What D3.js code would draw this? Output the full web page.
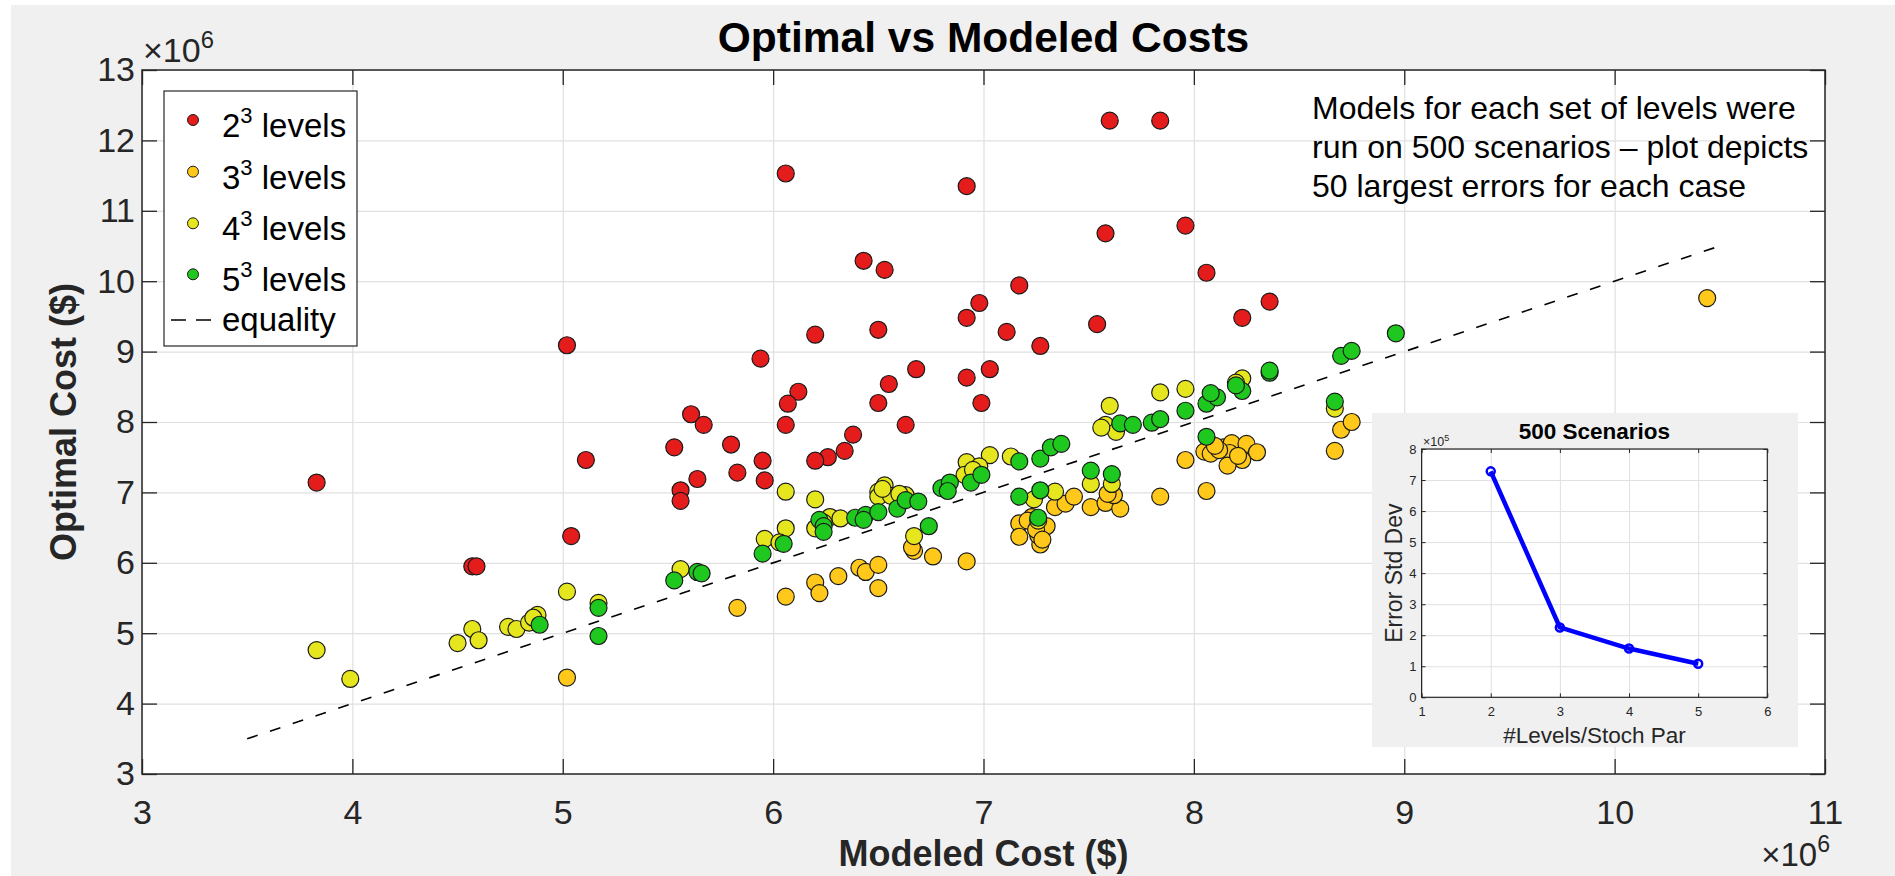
<!DOCTYPE html>
<html>
<head>
<meta charset="utf-8">
<script src="https://cdn.jsdelivr.net/npm/d3@7"></script>
<style>
  html, body { margin: 0; padding: 0; background: #ffffff; }
  svg { display: block; font-family: "Liberation Sans", Arial, Helvetica, sans-serif; }
</style>
</head>
<body>
<svg id="fig" width="1895" height="876"></svg>
<script>
// Costs in millions of dollars, each point is [modeled, optimal]
const levels2 = [[6.06,11.53],[6.92,11.35],[6.43,10.29],[6.53,10.16],[7.17,9.94],[6.98,9.69],[6.92,9.48],[6.50,9.31],[6.20,9.24],[7.11,9.28],[7.27,9.08],[5.94,8.90],[6.68,8.75],[7.03,8.75],[6.92,8.63],[6.55,8.54],[6.12,8.43],[6.07,8.26],[6.50,8.27],[6.99,8.27],[5.61,8.11],[5.67,7.96],[6.06,7.96],[6.63,7.96],[6.38,7.82],[7.60,12.28],[7.84,12.28],[7.58,10.68],[7.96,10.79],[8.06,10.12],[8.36,9.71],[8.23,9.48],[7.54,9.39],[5.02,9.09],[5.80,7.68],[6.34,7.59],[6.26,7.50],[6.20,7.45],[5.95,7.45],[5.83,7.28],[5.96,7.17],[5.64,7.19],[5.56,7.03],[5.56,6.88],[5.53,7.64],[3.83,7.14],[4.57,5.95],[4.59,5.95],[5.04,6.38],[5.11,7.46]];
const levels3 = [[5.02,4.37],[5.83,5.36],[6.06,5.52],[6.20,5.72],[6.22,5.57],[6.31,5.81],[6.41,5.93],[6.44,5.87],[6.50,5.97],[6.50,5.64],[6.67,6.17],[6.76,6.09],[6.92,6.02],[7.17,6.56],[7.17,6.37],[7.27,6.26],[7.26,6.39],[7.30,6.52],[7.23,6.65],[7.34,6.79],[7.39,6.84],[7.43,6.94],[7.51,6.79],[7.58,6.85],[7.65,6.77],[7.62,6.96],[7.84,6.94],[7.96,7.46],[8.05,7.58],[8.08,7.55],[8.14,7.64],[8.18,7.70],[8.25,7.69],[8.30,7.57],[8.17,7.56],[8.23,7.46],[8.16,7.38],[8.06,7.02],[8.67,7.59],[8.70,7.89],[8.75,8.00],[10.44,9.76],[8.12,7.60],[8.21,7.52],[7.21,6.60],[7.25,6.47],[6.66,6.22],[7.59,6.98],[8.10,7.66],[7.28,6.33]];
const levels4 = [[3.83,4.76],[3.99,4.35],[4.50,4.86],[4.57,5.06],[4.60,4.90],[4.74,5.09],[4.78,5.06],[4.84,5.15],[4.88,5.26],[5.02,5.59],[5.17,5.43],[5.56,5.91],[6.06,7.01],[6.20,6.90],[6.06,6.49],[5.96,6.34],[6.03,6.29],[6.53,7.10],[6.50,7.01],[6.50,6.94],[6.56,6.95],[6.63,6.96],[6.27,6.65],[6.32,6.63],[6.20,6.49],[6.67,6.38],[6.92,7.43],[7.03,7.53],[6.98,7.37],[6.91,7.25],[7.13,7.51],[7.34,7.01],[7.24,6.90],[7.51,7.12],[7.61,7.12],[7.58,7.96],[7.63,7.86],[7.60,8.23],[7.84,8.42],[7.96,8.47],[8.23,8.62],[8.67,8.19],[6.24,6.57],[6.52,7.05],[6.95,7.32],[4.86,5.22],[7.26,6.60],[8.20,8.56],[6.60,6.98],[7.56,7.92]];
const levels5 = [[4.89,5.12],[5.17,5.36],[5.17,4.96],[5.53,5.75],[5.64,5.87],[5.66,5.85],[5.95,6.13],[6.05,6.27],[6.22,6.61],[6.24,6.52],[6.24,6.44],[6.39,6.64],[6.44,6.68],[6.43,6.61],[6.50,6.72],[6.59,6.77],[6.63,6.89],[6.69,6.87],[6.74,6.52],[6.80,7.06],[6.84,7.14],[6.94,7.14],[6.99,7.25],[7.17,7.44],[7.27,7.48],[7.32,7.64],[7.37,7.69],[7.17,6.94],[7.27,7.03],[7.26,6.64],[7.51,7.31],[7.61,7.26],[7.65,7.98],[7.71,7.96],[7.80,7.99],[7.84,8.04],[7.96,8.16],[8.06,8.26],[8.11,8.35],[8.08,8.41],[8.23,8.44],[8.20,8.52],[8.36,8.70],[8.36,8.73],[8.70,8.94],[8.75,9.01],[8.96,9.26],[8.67,8.29],[8.06,7.79],[6.83,7.02]];

const seriesBases = ["2", "3", "4", "5"];
const seriesColors = ["#e41c1c", "#ffc81a", "#e6e61e", "#1ec81e"];
const xTicks = [3, 4, 5, 6, 7, 8, 9, 10, 11];
const yTicks = [3, 4, 5, 6, 7, 8, 9, 10, 11, 12, 13];
const equalityRange = [3.5, 10.5];

// Inset: error standard deviation (x 1e5) against levels per stochastic parameter
const insetLevels = [2, 3, 4, 5];
const insetStdDev = [7.28, 2.25, 1.57, 1.08];
const insetXTicks = [1, 2, 3, 4, 5, 6];
const insetYTicks = [0, 1, 2, 3, 4, 5, 6, 7, 8];

const svg = d3.select("#fig");
const ink = "#262626";
const gridColor = "#e0e0e0";

// figure background
svg.append("rect").attr("x", 11).attr("y", 5).attr("width", 1884).attr("height", 871).attr("fill", "#f0f0f0");

const x = d3.scaleLinear().domain([3, 11]).range([142, 1825]);
const y = d3.scaleLinear().domain([3, 13]).range([774, 70]);
const [x0, x1] = x.range();
const [y0, y1] = y.range();

svg.append("rect").attr("x", x0).attr("y", y1).attr("width", x1 - x0).attr("height", y0 - y1).attr("fill", "#ffffff");

// grid
const grid = svg.append("g");
grid.append("g").attr("transform", `translate(0,${y0})`)
  .call(d3.axisBottom(x).tickValues(xTicks).tickSize(-(y0 - y1)).tickFormat(""));
grid.append("g").attr("transform", `translate(${x0},0)`)
  .call(d3.axisLeft(y).tickValues(yTicks).tickSize(-(x1 - x0)).tickFormat(""));
grid.selectAll(".domain").remove();
grid.selectAll("line").attr("stroke", gridColor).attr("stroke-width", 1.2);

// equality line
svg.append("line")
  .attr("x1", x(equalityRange[0])).attr("y1", y(equalityRange[0]))
  .attr("x2", x(equalityRange[1])).attr("y2", y(equalityRange[1]))
  .attr("stroke", "#000").attr("stroke-width", 1.6).attr("stroke-dasharray", "11,13");

// scatter series
const allSeries = [levels2, levels3, levels4, levels5];
allSeries.forEach((pts, i) => {
  svg.append("g").selectAll("circle").data(pts).join("circle")
    .attr("cx", d => x(d[0])).attr("cy", d => y(d[1])).attr("r", 8.5)
    .attr("fill", seriesColors[i]).attr("stroke", "#1a1a1a").attr("stroke-width", 1.2);
});

// axes with inward ticks
function styleAxis(g, fs) {
  g.select(".domain").remove();
  g.selectAll("line").attr("stroke", ink).attr("stroke-width", 1.3);
  g.selectAll("text").attr("fill", ink).attr("font-size", fs).attr("font-family", null);
}
svg.append("g").attr("transform", `translate(0,${y0})`)
  .call(d3.axisBottom(x).tickValues(xTicks).tickSizeInner(-15).tickSizeOuter(0).tickPadding(26).tickFormat(d3.format("d")))
  .call(g => styleAxis(g, 34));
svg.append("g").attr("transform", `translate(${x0},0)`)
  .call(d3.axisLeft(y).tickValues(yTicks).tickSizeInner(-15).tickSizeOuter(0).tickPadding(7).tickFormat(d3.format("d")))
  .call(g => styleAxis(g, 34));
svg.append("g").attr("transform", `translate(0,${y1})`)
  .call(d3.axisTop(x).tickValues(xTicks).tickSizeInner(-15).tickSizeOuter(0).tickFormat(""))
  .call(g => styleAxis(g, 34));
svg.append("g").attr("transform", `translate(${x1},0)`)
  .call(d3.axisRight(y).tickValues(yTicks).tickSizeInner(-15).tickSizeOuter(0).tickFormat(""))
  .call(g => styleAxis(g, 34));
svg.append("rect").attr("x", x0).attr("y", y1).attr("width", x1 - x0).attr("height", y0 - y1)
  .attr("fill", "none").attr("stroke", ink).attr("stroke-width", 1.5);

// exponent labels
function exponent(px, py, anchor, fs, power) {
  const t = svg.append("text").attr("x", px).attr("y", py).attr("text-anchor", anchor)
    .attr("fill", ink).attr("font-size", fs);
  t.append("tspan").text("\u00d710");
  t.append("tspan").attr("font-size", fs * 0.7).attr("dy", -fs * 0.42).text(power);
  return t;
}
exponent(143, 62, "start", 34, "6");
exponent(1830, 866, "end", 33, "6");

// titles
svg.append("text").attr("x", (x0 + x1) / 2).attr("y", 52).attr("text-anchor", "middle")
  .attr("font-size", 42.5).attr("font-weight", "bold").attr("fill", "#000").text("Optimal vs Modeled Costs");
svg.append("text").attr("x", (x0 + x1) / 2).attr("y", 866).attr("text-anchor", "middle")
  .attr("font-size", 36).attr("font-weight", "bold").attr("fill", ink).text("Modeled Cost ($)");
svg.append("text").attr("transform", `translate(76,${(y0 + y1) / 2}) rotate(-90)`).attr("text-anchor", "middle")
  .attr("font-size", 36).attr("font-weight", "bold").attr("fill", ink).text("Optimal Cost ($)");

// annotation
const note = ["Models for each set of levels were", "run on 500 scenarios \u2013 plot depicts", "50 largest errors for each case"];
svg.append("g").selectAll("text").data(note).join("text")
  .attr("x", 1312).attr("y", (d, i) => 119 + i * 39)
  .attr("font-size", 32).attr("fill", "#000").text(d => d);

// legend
const leg = svg.append("g");
leg.append("rect").attr("x", 164).attr("y", 91).attr("width", 193).attr("height", 255)
  .attr("fill", "#fff").attr("stroke", ink).attr("stroke-width", 1.2);
const legY = [120, 171.7, 223.3, 274.3];
seriesBases.forEach((b, i) => {
  leg.append("circle").attr("cx", 193).attr("cy", legY[i]).attr("r", 5.5)
    .attr("fill", seriesColors[i]).attr("stroke", "#1a1a1a").attr("stroke-width", 1);
  const t = leg.append("text").attr("x", 222).attr("y", legY[i] + 17).attr("font-size", 33).attr("fill", "#000");
  t.append("tspan").text(b);
  t.append("tspan").attr("font-size", 22).attr("dy", -14).text("3");
  t.append("tspan").attr("dy", 14).text(" levels");
});
leg.append("line").attr("x1", 171).attr("x2", 211).attr("y1", 320).attr("y2", 320)
  .attr("stroke", "#000").attr("stroke-width", 1.5).attr("stroke-dasharray", "15,10");
leg.append("text").attr("x", 222).attr("y", 331).attr("font-size", 33).attr("fill", "#000").text("equality");

// inset chart
const inset = svg.append("g");
inset.append("rect").attr("x", 1372).attr("y", 413).attr("width", 426).attr("height", 334).attr("fill", "#f0f0f0");
const ix = d3.scaleLinear().domain([1, 6]).range([1421.6, 1767.3]);
const iy = d3.scaleLinear().domain([0, 8]).range([697.3, 449]);
const [ix0, ix1] = ix.range();
const [iy0, iy1] = iy.range();
inset.append("rect").attr("x", ix0).attr("y", iy1).attr("width", ix1 - ix0).attr("height", iy0 - iy1).attr("fill", "#fff");
const igrid = inset.append("g");
igrid.append("g").attr("transform", `translate(0,${iy0})`)
  .call(d3.axisBottom(ix).tickValues(insetXTicks).tickSize(-(iy0 - iy1)).tickFormat(""));
igrid.append("g").attr("transform", `translate(${ix0},0)`)
  .call(d3.axisLeft(iy).tickValues(insetYTicks).tickSize(-(ix1 - ix0)).tickFormat(""));
igrid.selectAll(".domain").remove();

inset.append("g").attr("transform", `translate(0,${iy0})`)
  .call(d3.axisBottom(ix).tickValues(insetXTicks).tickSizeInner(-4).tickSizeOuter(0).tickPadding(9).tickFormat(d3.format("d")))
  .call(g => styleAxis(g, 13));
inset.append("g").attr("transform", `translate(${ix0},0)`)
  .call(d3.axisLeft(iy).tickValues(insetYTicks).tickSizeInner(-4).tickSizeOuter(0).tickPadding(5).tickFormat(d3.format("d")))
  .call(g => styleAxis(g, 13));
inset.append("g").attr("transform", `translate(0,${iy1})`)
  .call(d3.axisTop(ix).tickValues(insetXTicks).tickSizeInner(-4).tickSizeOuter(0).tickFormat(""))
  .call(g => styleAxis(g, 13));
inset.append("g").attr("transform", `translate(${ix1},0)`)
  .call(d3.axisRight(iy).tickValues(insetYTicks).tickSizeInner(-4).tickSizeOuter(0).tickFormat(""))
  .call(g => styleAxis(g, 13));
inset.selectAll("line").attr("stroke-width", 1);
igrid.selectAll("line").attr("stroke", gridColor);
inset.append("rect").attr("x", ix0).attr("y", iy1).attr("width", ix1 - ix0).attr("height", iy0 - iy1)
  .attr("fill", "none").attr("stroke", ink).attr("stroke-width", 1.2);

const insetPts = insetLevels.map((l, i) => [l, insetStdDev[i]]);
inset.append("path").datum(insetPts)
  .attr("d", d3.line().x(d => ix(d[0])).y(d => iy(d[1])))
  .attr("fill", "none").attr("stroke", "#0000ff").attr("stroke-width", 4.5).attr("stroke-linejoin", "round");
inset.append("g").selectAll("circle").data(insetPts).join("circle")
  .attr("cx", d => ix(d[0])).attr("cy", d => iy(d[1])).attr("r", 4)
  .attr("fill", "none").attr("stroke", "#0000ff").attr("stroke-width", 2.5);

const iexp = inset.append("text").attr("x", 1423).attr("y", 446).attr("fill", ink).attr("font-size", 12.5);
iexp.append("tspan").text("\u00d710");
iexp.append("tspan").attr("font-size", 9).attr("dy", -5).text("5");

inset.append("text").attr("x", (ix0 + ix1) / 2).attr("y", 439).attr("text-anchor", "middle")
  .attr("font-size", 22.5).attr("font-weight", "bold").attr("fill", "#000").text("500 Scenarios");
inset.append("text").attr("x", (ix0 + ix1) / 2).attr("y", 743).attr("text-anchor", "middle")
  .attr("font-size", 22.5).attr("fill", ink).text("#Levels/Stoch Par");
inset.append("text").attr("transform", `translate(1402,${(iy0 + iy1) / 2}) rotate(-90)`).attr("text-anchor", "middle")
  .attr("font-size", 23).attr("fill", ink).text("Error Std Dev");
</script>
</body>
</html>
